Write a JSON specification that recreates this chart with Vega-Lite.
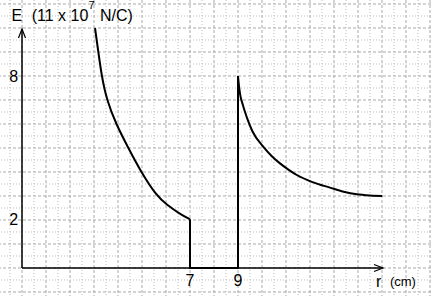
{
  "$schema": "https://vega.github.io/schema/vega-lite/v6.json",
  "width": 431,
  "height": 296,
  "autosize": {"type": "none"},
  "padding": 0,
  "background": "white",
  "config": {"view": {"stroke": null}, "font": "Liberation Sans"},
  "datasets": {
    "gridMajorX": [{"r": 0}, {"r": 1}, {"r": 2}, {"r": 3}, {"r": 4}, {"r": 5}, {"r": 6}, {"r": 7}, {"r": 8}, {"r": 9}, {"r": 10}, {"r": 11}, {"r": 12}, {"r": 13}, {"r": 14}, {"r": 15}, {"r": 16}, {"r": 17}],
    "gridMinorX": [{"r": -0.5}, {"r": 0.5}, {"r": 1.5}, {"r": 2.5}, {"r": 3.5}, {"r": 4.5}, {"r": 5.5}, {"r": 6.5}, {"r": 7.5}, {"r": 8.5}, {"r": 9.5}, {"r": 10.5}, {"r": 11.5}, {"r": 12.5}, {"r": 13.5}, {"r": 14.5}, {"r": 15.5}, {"r": 16.5}],
    "gridMajorY": [{"E": -1}, {"E": 0}, {"E": 1}, {"E": 2}, {"E": 3}, {"E": 4}, {"E": 5}, {"E": 6}, {"E": 7}, {"E": 8}, {"E": 9}, {"E": 10}, {"E": 11}],
    "gridMinorY": [{"E": -0.5}, {"E": 0.5}, {"E": 1.5}, {"E": 2.5}, {"E": 3.5}, {"E": 4.5}, {"E": 5.5}, {"E": 6.5}, {"E": 7.5}, {"E": 8.5}, {"E": 9.5}, {"E": 10.5}],
    "inner": [
      {"r": 3.042, "E": 10.0},
      {"r": 3.18, "E": 9.0},
      {"r": 3.32, "E": 8.0},
      {"r": 3.53, "E": 7.0},
      {"r": 3.917, "E": 6.0},
      {"r": 4.43, "E": 5.0},
      {"r": 4.96, "E": 4.0},
      {"r": 5.61, "E": 3.0},
      {"r": 6.03, "E": 2.64},
      {"r": 6.58, "E": 2.25},
      {"r": 7.0, "E": 2.03}
    ],
    "outer": [
      {"r": 9.0, "E": 8.0},
      {"r": 9.04, "E": 7.6},
      {"r": 9.08, "E": 7.29},
      {"r": 9.2, "E": 6.8},
      {"r": 9.36, "E": 6.3},
      {"r": 9.6, "E": 5.7},
      {"r": 10.06, "E": 5.05},
      {"r": 10.4, "E": 4.67},
      {"r": 10.75, "E": 4.36},
      {"r": 11.1, "E": 4.1},
      {"r": 11.45, "E": 3.875},
      {"r": 12.1, "E": 3.58},
      {"r": 12.83, "E": 3.35},
      {"r": 13.4, "E": 3.18},
      {"r": 13.95, "E": 3.07},
      {"r": 14.5, "E": 3.02},
      {"r": 15.01, "E": 3.0}
    ],
    "steps": [
      {"r": 7.0, "E": 2.03},
      {"r": 7.0, "E": 0},
      {"r": 9.0, "E": 0},
      {"r": 9.0, "E": 8.0}
    ],
    "axes": [
      {"r": 0, "E": 0, "r2": 15.04, "E2": 0},
      {"r": 0, "E": 0, "r2": 0, "E2": 9.96}
    ],
    "arrowX": [{"r": 15.04, "E": 0}],
    "arrowY": [{"r": 0, "E": 9.96}],
    "labels16c": [
      {"r": -0.346, "E": 7.96, "t": "8"},
      {"r": -0.346, "E": 2.0, "t": "2"},
      {"r": 7.0, "E": -0.54, "t": "7"},
      {"r": 9.0, "E": -0.54, "t": "9"},
      {"r": -0.22, "E": 10.52, "t": "E"}
    ],
    "labels16l": [
      {"r": 0.404, "E": 10.29, "t": "(11 x 10"},
      {"r": 3.25, "E": 10.29, "t": "N/C)"},
      {"r": 14.75, "E": -0.79, "t": "r"}
    ],
    "sup": [{"r": 2.77, "E": 10.8, "t": "7"}],
    "unit": [{"r": 15.33, "E": -0.75, "t": "(cm)"}]
  },
  "layer": [
    {
      "data": {"name": "gridMinorX"},
      "mark": {"type": "rule", "color": "#bdbdbd", "strokeWidth": 1, "strokeDash": [1, 2]},
      "encoding": {
        "x": {"field": "r", "type": "quantitative", "axis": null,
              "scale": {"domain": [-0.917, 17.042], "nice": false, "zero": false}}
      }
    },
    {
      "data": {"name": "gridMinorY"},
      "mark": {"type": "rule", "color": "#bdbdbd", "strokeWidth": 1, "strokeDash": [1, 2]},
      "encoding": {
        "y": {"field": "E", "type": "quantitative", "axis": null,
              "scale": {"domain": [-1.167, 11.167], "nice": false, "zero": false}}
      }
    },
    {
      "data": {"name": "gridMajorX"},
      "mark": {"type": "rule", "color": "#a9a9a9", "strokeWidth": 1, "strokeDash": [3, 2]},
      "encoding": {
        "x": {"field": "r", "type": "quantitative", "axis": null}
      }
    },
    {
      "data": {"name": "gridMajorY"},
      "mark": {"type": "rule", "color": "#a9a9a9", "strokeWidth": 1, "strokeDash": [3, 2]},
      "encoding": {
        "y": {"field": "E", "type": "quantitative", "axis": null}
      }
    },
    {
      "data": {"name": "inner"},
      "mark": {"type": "line", "color": "black", "strokeWidth": 2, "interpolate": "basis"},
      "encoding": {
        "x": {"field": "r", "type": "quantitative", "axis": null},
        "y": {"field": "E", "type": "quantitative", "axis": null}
      }
    },
    {
      "data": {"name": "outer"},
      "mark": {"type": "line", "color": "black", "strokeWidth": 2, "interpolate": "monotone"},
      "encoding": {
        "x": {"field": "r", "type": "quantitative", "axis": null},
        "y": {"field": "E", "type": "quantitative", "axis": null}
      }
    },
    {
      "data": {"name": "steps"},
      "mark": {"type": "line", "color": "black", "strokeWidth": 2, "strokeJoin": "miter"},
      "encoding": {
        "x": {"field": "r", "type": "quantitative", "axis": null},
        "y": {"field": "E", "type": "quantitative", "axis": null},
        "order": {"value": null}
      }
    },
    {
      "data": {"name": "axes"},
      "mark": {"type": "rule", "color": "black", "strokeWidth": 1.5},
      "encoding": {
        "x": {"field": "r", "type": "quantitative", "axis": null},
        "x2": {"field": "r2"},
        "y": {"field": "E", "type": "quantitative", "axis": null},
        "y2": {"field": "E2"}
      }
    },
    {
      "data": {"name": "arrowX"},
      "mark": {"type": "point", "shape": "M-1,-0.39L0,0L-1,0.39", "size": 324, "filled": false, "color": "black", "strokeWidth": 1.2, "opacity": 1},
      "encoding": {
        "x": {"field": "r", "type": "quantitative", "axis": null},
        "y": {"field": "E", "type": "quantitative", "axis": null}
      }
    },
    {
      "data": {"name": "arrowY"},
      "mark": {"type": "point", "shape": "M-0.39,1L0,0L0.39,1", "size": 324, "filled": false, "color": "black", "strokeWidth": 1.2, "opacity": 1},
      "encoding": {
        "x": {"field": "r", "type": "quantitative", "axis": null},
        "y": {"field": "E", "type": "quantitative", "axis": null}
      }
    },
    {
      "data": {"name": "labels16c"},
      "mark": {"type": "text", "fontSize": 16, "align": "center", "baseline": "middle", "color": "black"},
      "encoding": {
        "x": {"field": "r", "type": "quantitative", "axis": null},
        "y": {"field": "E", "type": "quantitative", "axis": null},
        "text": {"field": "t"}
      }
    },
    {
      "data": {"name": "labels16l"},
      "mark": {"type": "text", "fontSize": 16, "align": "left", "baseline": "alphabetic", "color": "black"},
      "encoding": {
        "x": {"field": "r", "type": "quantitative", "axis": null},
        "y": {"field": "E", "type": "quantitative", "axis": null},
        "text": {"field": "t"}
      }
    },
    {
      "data": {"name": "sup"},
      "mark": {"type": "text", "fontSize": 11, "align": "left", "baseline": "alphabetic", "color": "black"},
      "encoding": {
        "x": {"field": "r", "type": "quantitative", "axis": null},
        "y": {"field": "E", "type": "quantitative", "axis": null},
        "text": {"field": "t"}
      }
    },
    {
      "data": {"name": "unit"},
      "mark": {"type": "text", "fontSize": 13, "align": "left", "baseline": "alphabetic", "color": "black"},
      "encoding": {
        "x": {"field": "r", "type": "quantitative", "axis": null},
        "y": {"field": "E", "type": "quantitative", "axis": null},
        "text": {"field": "t"}
      }
    }
  ]
}
